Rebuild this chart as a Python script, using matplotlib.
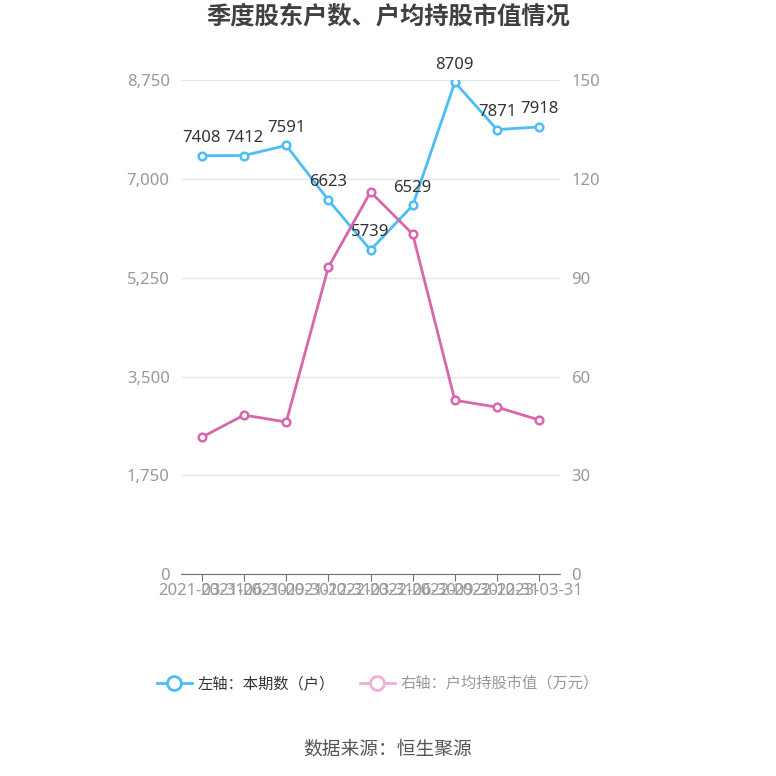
import matplotlib.pyplot as plt
from matplotlib.lines import Line2D

plt.rcParams['font.family'] = ['Noto Sans', 'Noto Sans CJK SC', 'DejaVu Sans']

dates = ['2021-03-31', '2021-06-30', '2021-09-30', '2021-12-31', '2022-03-31',
         '2022-06-30', '2022-09-30', '2022-12-31', '2023-03-31']
holders = [7408, 7412, 7591, 6623, 5739, 6529, 8709, 7871, 7918]
avg_value = [41.6, 48.3, 46.2, 93.2, 116.0, 103.2, 52.8, 50.7, 46.8]
left_ticks = [0, 1750, 3500, 5250, 7000, 8750]
right_ticks = [0, 30, 60, 90, 120, 150]

blue = '#4dbdf5'
pink = '#d966ad'

fig = plt.figure(figsize=(7.76, 7.76), dpi=100)
ax = fig.add_axes([0.233, 0.260, 0.489, 0.637])
ax2 = ax.twinx()

x = list(range(len(dates)))
ax.plot(x, holders, color=blue, lw=2, marker='o', ms=5.5, mfc='white',
        mec=blue, mew=1.8, zorder=3)
ax2.plot(x, avg_value, color=pink, lw=2, marker='o', ms=5.5, mfc='white',
         mec=pink, mew=1.8, zorder=3)

for xi, v in zip(x, holders):
    ax.annotate(str(v), (xi, v), xytext=(0, 7), textcoords='offset points',
                ha='center', va='bottom', fontsize=12, color='#333333')

ax.set_xlim(-0.5, len(dates) - 0.5)
ax.set_ylim(0, 8750)
ax2.set_ylim(0, 150)
ax.set_yticks(left_ticks)
ax.set_yticklabels([f'{t:,}' for t in left_ticks])
ax2.set_yticks(right_ticks)
ax.set_xticks(x)
ax.set_xticklabels(dates)

ax.grid(axis='y', color='#e0e6f1', lw=1)
ax.set_axisbelow(True)
for a in (ax, ax2):
    for s in ('top', 'left', 'right'):
        a.spines[s].set_visible(False)
    a.spines['bottom'].set_color('#6e7079')
    a.tick_params(axis='y', length=0, labelsize=12, labelcolor='#999999', pad=8)
ax2.spines['bottom'].set_visible(False)
ax.tick_params(axis='x', length=5, color='#6e7079', labelsize=12,
               labelcolor='#999999', pad=1)

fig.text(0.5, 0.977, '季度股东户数、户均持股市值情况', ha='center', va='center',
         fontsize=17.5, fontweight='bold', color='#404040')

handles = [
    Line2D([0], [0], color=blue, lw=2, marker='o', ms=10, mfc='white', mec=blue, mew=2),
    Line2D([0], [0], color='#eeb0d6', lw=2, marker='o', ms=10, mfc='white', mec='#eeb0d6', mew=2),
]
leg = fig.legend(handles, ['左轴：本期数（户）', '右轴：户均持股市值（万元）'],
                 loc='center', bbox_to_anchor=(0.487, 0.118), ncol=2, frameon=False,
                 fontsize=11, handlelength=2.3, columnspacing=1.6, handletextpad=0.4)
leg.get_texts()[0].set_color('#333333')
leg.get_texts()[1].set_color('#999999')

fig.text(0.5, 0.034, '数据来源：恒生聚源', ha='center', va='center',
         fontsize=13.5, color='#555555')

fig.savefig('out.png', dpi=100)
